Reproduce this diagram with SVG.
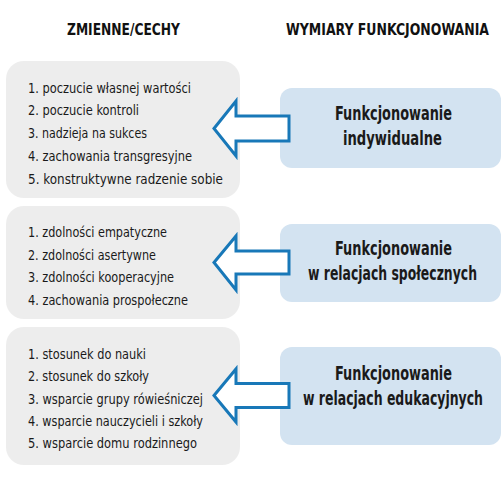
<svg xmlns="http://www.w3.org/2000/svg" width="502" height="486" viewBox="0 0 502 486">
<style>
.hdr{font-family:"Liberation Sans Narrow","DejaVu Sans Condensed","Liberation Sans",sans-serif;font-weight:bold;font-size:16.5px;fill:#111;text-anchor:middle}
.li{font-family:"Liberation Sans Narrow","DejaVu Sans Condensed","Liberation Sans",sans-serif;font-size:14.5px;fill:#1a1a1a}
.bt{font-family:"Liberation Sans Narrow","DejaVu Sans Condensed","Liberation Sans",sans-serif;font-weight:bold;font-size:19px;fill:#1a1a1a;text-anchor:middle}
.lbox{fill:#ededed}
.rbox{fill:#d3e3f1}
.arr{fill:#ffffff;stroke:#1878b8;stroke-width:3;stroke-linejoin:miter}
</style>
<rect width="502" height="486" fill="#ffffff"/>
<text class="hdr" x="123.5" y="35" textLength="113" lengthAdjust="spacingAndGlyphs">ZMIENNE/CECHY</text>
<text class="hdr" x="387.5" y="35" textLength="203" lengthAdjust="spacingAndGlyphs">WYMIARY FUNKCJONOWANIA</text>

<g id="vars1">
<rect class="lbox" x="6" y="61" width="234" height="137" rx="18"/>
<text class="li" x="28" y="92.5" textLength="163" lengthAdjust="spacingAndGlyphs">1. poczucie własnej wartości</text>
<text class="li" x="28" y="115.3" textLength="111" lengthAdjust="spacingAndGlyphs">2. poczucie kontroli</text>
<text class="li" x="28" y="138.1" textLength="119" lengthAdjust="spacingAndGlyphs">3. nadzieja na sukces</text>
<text class="li" x="28" y="160.9" textLength="164" lengthAdjust="spacingAndGlyphs">4. zachowania transgresyjne</text>
<text class="li" x="28" y="183.7" textLength="195" lengthAdjust="spacingAndGlyphs">5. konstruktywne radzenie sobie</text>
</g>
<g id="vars2">
<rect class="lbox" x="6" y="206" width="234" height="113" rx="18"/>
<text class="li" x="28" y="237" textLength="139" lengthAdjust="spacingAndGlyphs">1. zdolności empatyczne</text>
<text class="li" x="28" y="259.5" textLength="128" lengthAdjust="spacingAndGlyphs">2. zdolności asertywne</text>
<text class="li" x="28" y="282" textLength="146" lengthAdjust="spacingAndGlyphs">3. zdolności kooperacyjne</text>
<text class="li" x="28" y="304.5" textLength="160" lengthAdjust="spacingAndGlyphs">4. zachowania prospołeczne</text>
</g>
<g id="vars3">
<rect class="lbox" x="6" y="327" width="234" height="138" rx="18"/>
<text class="li" x="28" y="359" textLength="118" lengthAdjust="spacingAndGlyphs">1. stosunek do nauki</text>
<text class="li" x="28" y="381.3" textLength="121" lengthAdjust="spacingAndGlyphs">2. stosunek do szkoły</text>
<text class="li" x="28" y="403.6" textLength="175" lengthAdjust="spacingAndGlyphs">3. wsparcie grupy rówieśniczej</text>
<text class="li" x="28" y="425.9" textLength="175" lengthAdjust="spacingAndGlyphs">4. wsparcie nauczycieli i szkoły</text>
<text class="li" x="28" y="448.2" textLength="169" lengthAdjust="spacingAndGlyphs">5. wsparcie domu rodzinnego</text>
</g>

<g id="dim1">
<rect class="rbox" x="280" y="88" width="221" height="80" rx="12"/>
<text class="bt" x="393.5" y="120" textLength="117" lengthAdjust="spacingAndGlyphs">Funkcjonowanie</text>
<text class="bt" x="392.5" y="145" textLength="99" lengthAdjust="spacingAndGlyphs">indywidualne</text>
</g>
<g id="dim2">
<rect class="rbox" x="280" y="224" width="221" height="78" rx="12"/>
<text class="bt" x="393.5" y="255" textLength="117" lengthAdjust="spacingAndGlyphs">Funkcjonowanie</text>
<text class="bt" x="392.5" y="280" textLength="169" lengthAdjust="spacingAndGlyphs">w relacjach społecznych</text>
</g>
<g id="dim3">
<rect class="rbox" x="280" y="347" width="221" height="98" rx="12"/>
<text class="bt" x="393.5" y="380" textLength="117" lengthAdjust="spacingAndGlyphs">Funkcjonowanie</text>
<text class="bt" x="393" y="405" textLength="180" lengthAdjust="spacingAndGlyphs">w relacjach edukacyjnych</text>
</g>

<g id="connectors">
<path class="arr" d="M214,128.5 L236,101 L236,116 L289,116 L289,141 L236,141 L236,156 Z"/>
<path class="arr" d="M214,262.5 L236,236 L236,251 L289,251 L289,274 L236,274 L236,290 Z"/>
<path class="arr" d="M214,395.5 L236,369 L236,383.5 L289,383.5 L289,407.5 L236,407.5 L236,422 Z"/>
</g>
</svg>
